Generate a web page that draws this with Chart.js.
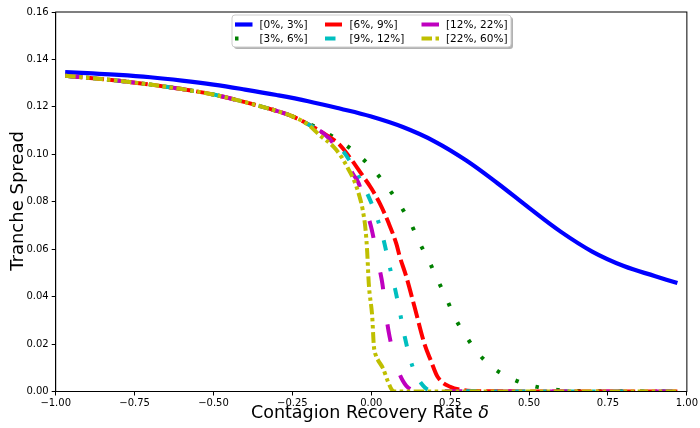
<!DOCTYPE html>
<html><head><meta charset="utf-8">
<script src="https://cdn.jsdelivr.net/npm/chart.js@4/dist/chart.umd.min.js"></script>
<style>html,body{margin:0;padding:0;background:#fff}#wrap{width:700px;height:428px;position:relative}</style>
</head><body><div id="wrap"><canvas id="c" width="700" height="428"></canvas></div>
<script>
// ---- data ----
const xTicks = [-1.00, -0.75, -0.50, -0.25, 0.00, 0.25, 0.50, 0.75, 1.00];
const yTicks = [0.00, 0.02, 0.04, 0.06, 0.08, 0.10, 0.12, 0.14, 0.16];
const seriesLabels = ['[0%, 3%]', '[3%, 6%]', '[6%, 9%]', '[9%, 12%]', '[12%, 22%]', '[22%, 60%]'];

// shared upper branch of the five senior tranches
const commonX = [-0.97, -0.9, -0.8, -0.7, -0.6, -0.5, -0.4, -0.35, -0.3, -0.25];
const commonY = [0.1331, 0.1323, 0.1310, 0.1294, 0.1275, 0.1252, 0.1220, 0.1202, 0.1183, 0.1160];

const tr0X = [-0.97, -0.9, -0.8, -0.7, -0.6, -0.5, -0.4, -0.3, -0.2, -0.1, 0, 0.1, 0.2, 0.3, 0.4, 0.5, 0.6, 0.7, 0.8, 0.9, 0.97];
const tr0Y = [0.1347, 0.1342, 0.1335, 0.1325, 0.1311, 0.1294, 0.1273, 0.1250, 0.1224, 0.1193, 0.1159, 0.1115, 0.1055, 0.0975, 0.0878, 0.0774, 0.0674, 0.0590, 0.0529, 0.0486, 0.0457];

const tr1X = [-0.2, -0.14, -0.084, -0.032, 0.014, 0.055, 0.093, 0.126, 0.153, 0.184, 0.212, 0.24, 0.267, 0.302, 0.34, 0.388, 0.447, 0.509, 0.574, 0.64, 0.75, 0.97];
const tr1Y = [0.1131, 0.1089, 0.1042, 0.0987, 0.0924, 0.0855, 0.0782, 0.0706, 0.0627, 0.0547, 0.0466, 0.0386, 0.0306, 0.0229, 0.0159, 0.0098, 0.0053, 0.0024, 0.0009, 0.0003, 0.0001, 0];

const tr2X = [-0.2, -0.15, -0.1, -0.067, -0.03, 0.0, 0.027, 0.055, 0.08, 0.09, 0.111, 0.137, 0.168, 0.19, 0.21, 0.25, 0.29, 0.35, 0.97];
const tr2Y = [0.1127, 0.1088, 0.1040, 0.0985, 0.0915, 0.0857, 0.0793, 0.0710, 0.0620, 0.0570, 0.0484, 0.0357, 0.0203, 0.0126, 0.0062, 0.0020, 0.0006, 0.0001, 0];

const tr3X = [-0.2, -0.15, -0.12, -0.088, -0.046, -0.011, 0.018, 0.039, 0.057, 0.075, 0.091, 0.106, 0.125, 0.14, 0.158, 0.18, 0.22, 0.97];
const tr3Y = [0.1127, 0.1087, 0.1048, 0.1011, 0.0920, 0.0829, 0.0734, 0.0639, 0.0533, 0.0435, 0.0332, 0.0231, 0.0129, 0.0075, 0.0035, 0.0008, 0.0001, 0];

const tr4X = [-0.2, -0.15, -0.12, -0.09, -0.056, -0.04, -0.008, 0.001, 0.027, 0.035, 0.05, 0.058, 0.072, 0.087, 0.1, 0.111, 0.13, 0.16, 0.97];
const tr4Y = [0.1127, 0.1087, 0.1046, 0.0985, 0.0913, 0.0878, 0.0730, 0.0685, 0.0512, 0.0456, 0.0294, 0.0231, 0.0150, 0.0083, 0.0045, 0.0024, 0.0006, 0.0001, 0];

const tr5X = [-0.2, -0.164, -0.12, -0.095, -0.074, -0.053, -0.037, -0.027, -0.018, -0.013, -0.008, 0.003, 0.008, 0.015, 0.021, 0.037, 0.053, 0.066, 0.08, 0.97];
const tr5Y = [0.1125, 0.1081, 0.1032, 0.0990, 0.0941, 0.0885, 0.0821, 0.0765, 0.0680, 0.0590, 0.0456, 0.0315, 0.0195, 0.0150, 0.0133, 0.0098, 0.0041, 0.0006, 0, 0];

// ---- build ----
function pts(xs, ys, withCommon) {
  const out = [];
  if (withCommon) commonX.forEach((x, i) => out.push({x: x, y: commonY[i]}));
  xs.forEach((x, i) => out.push({x: x, y: ys[i]}));
  return out;
}
const styles = [
  {color: '#0000ff', dash: [], width: 4.2, order: 5, mode: 'default'},
  {color: '#008000', dash: [3.5, 17.5], width: 4, order: 4, mode: 'monotone'},
  {color: '#ff0000', dash: [17, 5], width: 4, order: 3, mode: 'monotone'},
  {color: '#00bfbf', dash: [10.5, 17.5, 3.5, 17.5], width: 4, order: 2, mode: 'monotone'},
  {color: '#bf00bf', dash: [17.5, 35], width: 4, order: 1, mode: 'monotone'},
  {color: '#bfbf00', dash: [10.5, 3.5, 3.5, 3.5, 3.5, 3.5], width: 4, order: 0, mode: 'monotone'}
];
const rawSeries = [[tr0X, tr0Y, false], [tr1X, tr1Y, true], [tr2X, tr2Y, true], [tr3X, tr3Y, true], [tr4X, tr4Y, true], [tr5X, tr5Y, true]];
const datasets = rawSeries.map((s, i) => ({
  label: seriesLabels[i],
  data: pts(s[0], s[1], s[2]),
  borderColor: styles[i].color,
  backgroundColor: styles[i].color,
  borderWidth: styles[i].width,
  borderDash: styles[i].dash,
  borderCapStyle: 'butt',
  borderJoinStyle: 'round',
  pointRadius: 0,
  cubicInterpolationMode: styles[i].mode,
  tension: 0.4,
  fill: false,
  clip: 0,
  order: styles[i].order
}));

const fmt = v => (v < 0 ? '\u2212' : '') + Math.abs(v).toFixed(2);

const decor = {
  id: 'decor',
  afterDatasetsDraw(chart) {
    const ctx = chart.ctx, a = chart.chartArea;
    ctx.save();
    ctx.strokeStyle = '#000'; ctx.lineWidth = 1;
    ctx.strokeRect(a.left, a.top, a.right - a.left, a.bottom - a.top);
    ctx.restore();
  },
  afterDraw(chart) {
    const ctx = chart.ctx;
    ctx.save();
    // axis titles
    ctx.fillStyle = '#000';
    ctx.font = '18px "DejaVu Sans"';
    ctx.textBaseline = 'middle';
    ctx.textAlign = 'center';
    ctx.save();
    ctx.translate(18, 201);
    ctx.rotate(-Math.PI / 2);
    ctx.fillText('Tranche Spread', 0, 0);
    ctx.restore();
    const t1 = 'Contagion Recovery Rate ';
    ctx.font = '17.5px "DejaVu Sans"';
    const w1 = ctx.measureText(t1).width;
    ctx.font = 'italic 17.5px "DejaVu Sans"';
    const w2 = ctx.measureText('\u03b4').width;
    const x0 = 370 - (w1 + w2) / 2;
    ctx.textAlign = 'left';
    ctx.font = '17.5px "DejaVu Sans"';
    ctx.fillText(t1, x0, 413);
    ctx.font = 'italic 17.5px "DejaVu Sans"';
    ctx.fillText('\u03b4', x0 + w1, 413);

    // legend
    const bx = 232, by = 15, bw = 279, bh = 32;
    ctx.fillStyle = 'rgba(0,0,0,0.3)';
    ctx.beginPath(); ctx.roundRect(bx + 2, by + 2, bw, bh, 3); ctx.fill();
    ctx.fillStyle = '#ffffff';
    ctx.strokeStyle = '#cccccc'; ctx.lineWidth = 1;
    ctx.beginPath(); ctx.roundRect(bx, by, bw, bh, 3); ctx.fill(); ctx.stroke();
    const colX = [235, 325, 421.5];
    const rowY = [24.5, 38.5];
    ctx.font = '10.5px "DejaVu Sans"';
    ctx.textBaseline = 'middle';
    chart.data.datasets.forEach((ds, i) => {
      const c = Math.floor(i / 2), r = i % 2;
      const x = colX[c], y = rowY[r];
      ctx.save();
      ctx.strokeStyle = ds.borderColor;
      ctx.lineWidth = ds.borderWidth;
      ctx.lineCap = 'butt';
      ctx.setLineDash(ds.borderDash);
      ctx.beginPath(); ctx.moveTo(x, y); ctx.lineTo(x + 17.5, y); ctx.stroke();
      ctx.restore();
      ctx.fillStyle = '#000';
      ctx.textAlign = 'left';
      ctx.fillText(ds.label, x + 24.5, y + 0.5);
    });
    ctx.restore();
  }
};

new Chart(document.getElementById('c'), {
  type: 'line',
  data: {datasets: datasets},
  options: {
    responsive: false,
    animation: false,
    devicePixelRatio: 1,
    layout: {padding: {top: 12, right: 12.3, left: 0, bottom: 0}},
    plugins: {legend: {display: false}, tooltip: {enabled: false}},
    scales: {
      x: {
        type: 'linear', min: -1, max: 1,
        afterFit: s => { s.height = 36.5; },
        afterBuildTicks: s => { s.ticks = xTicks.map(v => ({value: v})); },
        ticks: {callback: v => fmt(v), autoSkip: false, maxRotation: 0, color: '#000', font: {family: 'DejaVu Sans', size: 10}, padding: 2},
        grid: {drawOnChartArea: false, drawTicks: true, tickLength: 4, tickColor: '#000'},
        border: {display: true, color: '#000', width: 1}
      },
      y: {
        type: 'linear', min: 0, max: 0.16,
        afterFit: s => { s.width = 55.7; },
        afterBuildTicks: s => { s.ticks = yTicks.map(v => ({value: v})); },
        ticks: {callback: v => fmt(v), autoSkip: false, color: '#000', font: {family: 'DejaVu Sans', size: 10}, padding: 3},
        grid: {drawOnChartArea: false, drawTicks: true, tickLength: 4, tickColor: '#000'},
        border: {display: true, color: '#000', width: 1}
      }
    }
  },
  plugins: [decor]
});
</script></body></html>
